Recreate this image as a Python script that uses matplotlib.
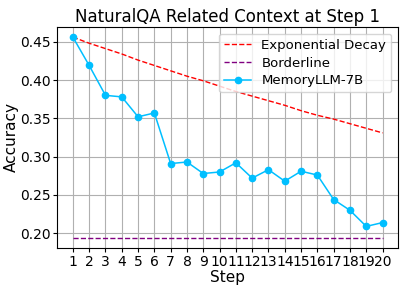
import matplotlib
matplotlib.use('Agg')
import matplotlib.pyplot as plt

steps = list(range(1, 21))
memoryllm = [0.456, 0.419, 0.380, 0.378, 0.352, 0.357, 0.291, 0.293, 0.278, 0.280,
             0.292, 0.272, 0.283, 0.268, 0.281, 0.276, 0.244, 0.230, 0.209, 0.214]
exp_decay = [0.456, 0.448, 0.441, 0.434, 0.426, 0.419, 0.412, 0.405, 0.399, 0.392,
             0.385, 0.379, 0.373, 0.367, 0.360, 0.354, 0.349, 0.343, 0.337, 0.331]
borderline = [0.194] * 20

fig, ax = plt.subplots(figsize=(4.07, 2.91), dpi=100)
fig.subplots_adjust(left=0.141, right=0.978, top=0.907, bottom=0.148)

ax.plot(steps, exp_decay, 'r--', linewidth=1, label='Exponential Decay')
ax.plot(steps, borderline, '--', color='purple', linewidth=1, label='Borderline')
ax.plot(steps, memoryllm, '-o', color='deepskyblue', linewidth=1.1, markersize=4.5,
        label='MemoryLLM-7B')

ax.set_title('NaturalQA Related Context at Step 1', fontsize=12, pad=4)
ax.set_xlabel('Step', fontsize=11, labelpad=1)
ax.set_ylabel('Accuracy', fontsize=11, labelpad=1)
ax.set_xticks(steps)
ax.tick_params(labelsize=10, length=3, pad=2)
ax.grid(True)
ax.legend(fontsize=9.5, loc='upper right', labelspacing=0.35)

plt.savefig('out.png', dpi=100)
